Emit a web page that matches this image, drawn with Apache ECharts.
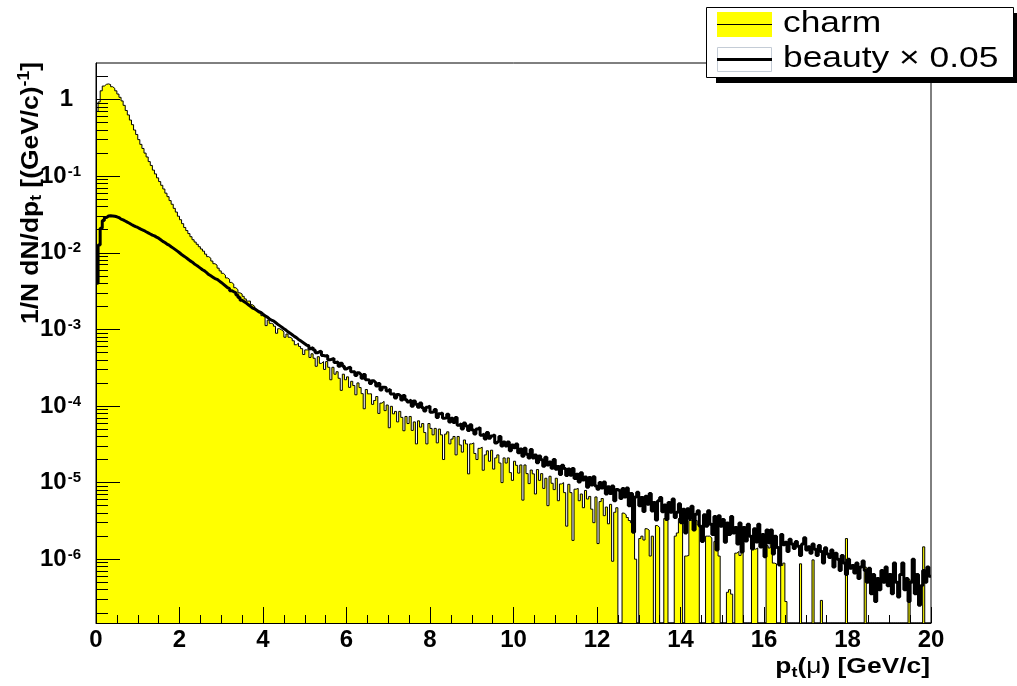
<!DOCTYPE html>
<html><head><meta charset="utf-8">
<script src="https://cdn.jsdelivr.net/npm/echarts@6/dist/echarts.min.js"></script>
<style>html,body{margin:0;padding:0;background:#fff}#c{width:1017px;height:686px}</style>
</head><body><div id="c"></div>
<script>
// ---- data ----
const binWidth = 0.05;           // GeV/c, 400 bins from 0 to 20
const xRange = [0, 20];
const yRange = [1.47e-7, 3.0];
const xTickLabels = ['0','2','4','6','8','10','12','14','16','18','20'];
const yDecades = [-6, -5, -4, -3, -2, -1, 0];
const seriesNames = ['charm', 'beauty \u00d7 0.05'];

const charm = [
0.70,0.93,1.3,1.5,1.58,1.6,1.57,1.47,1.4,1.3,
1.18,1.07,0.96,0.84,0.72,0.63,0.54,0.47,0.40,0.35,
0.30,0.26,0.23,0.20,0.178,0.155,0.138,0.12,0.107,0.095,
0.085,0.076,0.068,0.060,0.054,0.048,0.043,0.038,0.034,0.030,
0.027,0.024,0.0214,0.0195,0.0178,0.0162,0.0148,0.0138,0.0129,0.012,
0.0112,0.0105,0.0096,0.0089,0.0085,0.0078,0.0072,0.0069,0.0063,0.0058,
0.0054,0.0051,0.0047,0.0045,0.0041,0.0039,0.0035,0.0033,0.0030,0.0029,
0.0027,0.0025,0.00234,0.00234,0.0021,0.0020,0.0018,0.00174,0.00166,0.00151,
0.00145,0.00112,0.00132,0.0012,0.00117,0.0011,0.00089,0.00102,0.00098,0.00093,
0.00079,0.00087,0.00079,0.00076,0.00071,0.00063,0.00066,0.0006,0.00056,0.00047,
5.4e-4,5.4e-4,4.3e-4,4.8e-4,4.2e-4,3.3e-4,4.4e-4,3.6e-4,3.8e-4,3.0e-4,
3.8e-4,3.2e-4,2.2e-4,3.2e-4,2.6e-4,2.8e-4,2.3e-4,1.6e-4,2.6e-4,2.2e-4,
2.4e-4,1.75e-4,2.1e-4,1.85e-4,1.4e-4,2.0e-4,1.74e-4,1.45e-4,9.2e-5,1.64e-4,
1.44e-4,1.44e-4,1.05e-4,1.18e-4,1.33e-4,8.0e-5,1.09e-4,1.15e-4,8.7e-5,1.03e-4,
5.2e-5,9.9e-5,7.9e-5,8.5e-5,6.2e-5,8.5e-5,7.1e-5,4.75e-5,7.3e-5,5.9e-5,
7.3e-5,4.8e-5,6.2e-5,3.2e-5,6.4e-5,5.3e-5,5.9e-5,4.5e-5,3.2e-5,5.9e-5,
5.1e-5,4.2e-5,5.1e-5,3.3e-5,5.0e-5,4.2e-5,2.0e-5,4.3e-5,4.6e-5,3.2e-5,
3.7e-5,4.0e-5,2.3e-5,4.0e-5,3.1e-5,2.5e-5,3.6e-5,3.2e-5,1.3e-5,3.2e-5,
3.3e-5,2.4e-5,2.0e-5,2.8e-5,2.9e-5,1.45e-5,2.3e-5,2.6e-5,1.9e-5,2.65e-5,
1.5e-5,2.1e-5,2.3e-5,1.8e-5,1.0e-5,2.1e-5,1.8e-5,2.1e-5,1.35e-5,1.07e-5,
1.9e-5,1.68e-5,1.33e-5,1.7e-5,5.9e-6,1.7e-5,1.31e-5,9.7e-6,1.46e-5,1.3e-5,
7.1e-6,1.48e-5,1.07e-5,1.31e-5,8.4e-6,1.14e-5,5.0e-6,1.21e-5,9.8e-6,8.1e-6,
1.14e-5,5.8e-6,9.6e-6,1.0e-5,7.4e-6,2.7e-6,9.5e-6,7.4e-6,1.76e-6,8.2e-6,
8.4e-6,5.8e-6,7.1e-6,4.7e-6,7.9e-6,6.1e-6,6.6e-6,4.5e-6,3.0e-6,6.5e-6,
1.6e-6,5.65e-6,6.2e-6,3.7e-6,4.8e-6,2.9e-6,5.2e-6,9.4e-7,4.1e-6,4.7e-6,
0,0,4.0e-6,3.8e-6,3.5e-6,3.2e-6,3.0e-6,3.3e-6,1.0e-6,0,
1.86e-6,2.0e-6,1.78e-6,2.5e-6,2.4e-6,1.1e-6,2.0e-6,0,2.75e-6,2.6e-6,
0,0,3.4e-6,3.2e-6,0,0,0,2.0e-6,2.2e-6,3.4e-6,
3.2e-6,0,1.1e-6,1.12e-6,3.2e-6,3.3e-6,3.0e-6,3.2e-6,2.8e-6,0,
0,0,2.0e-6,2.0e-6,1.9e-6,0,1.7e-6,1.78e-6,1.1e-6,0,
0,0,3.7e-7,4.0e-7,3.5e-7,0,1.2e-6,1.26e-6,1.12e-6,1.3e-6,
0,0,0,0,1.4e-6,1.35e-6,1.4e-6,0,0,0,
0,1.5e-6,1.4e-6,1.6e-6,8.9e-7,8.7e-7,0,0,8.3e-7,8.9e-7,
2.8e-7,0,0,0,0,0,0,8.7e-7,0,0,
0,0,0,9.8e-7,0,0,0,2.9e-7,0,0,
0,0,0,0,0,0,0,0,0,1.86e-6,
0,0,0,0,0,0,0,0,7.9e-7,0,
0,0,0,0,0,0,0,0,0,0,
0,0,0,0,0,0,0,0,0,5.4e-7,
0,0,0,0,0,0,1.45e-6,0,0,0
];

const beauty = [
0.004,0.0126,0.0209,0.0263,0.0288,0.0302,0.0305,0.0302,0.0299,0.0295,
0.0288,0.0275,0.0269,0.026,0.0251,0.0243,0.0234,0.0226,0.0219,0.0214,
0.0207,0.020,0.0195,0.0188,0.0182,0.0176,0.017,0.0166,0.016,0.0155,
0.0148,0.0141,0.0136,0.013,0.0126,0.012,0.0115,0.011,0.0105,0.0100,
0.0095,0.0091,0.0087,0.0083,0.0079,0.0076,0.0072,0.0069,0.0066,0.0063,
0.006,0.0058,0.0055,0.0052,0.005,0.0048,0.0046,0.0045,0.0043,0.0041,
0.0039,0.0037,0.0035,0.0034,0.0032,0.0031,0.003,0.0028,0.0026,0.0024,
0.0023,0.0022,0.0021,0.002,0.0019,0.00186,0.00178,0.0017,0.00166,0.00158,
0.00151,0.00145,0.00138,0.00132,0.00129,0.00123,0.00117,0.00112,0.00107,0.00102,
9.8e-4,9.3e-4,8.9e-4,8.5e-4,8.1e-4,7.8e-4,7.4e-4,7.1e-4,6.8e-4,6.5e-4,
6.2e-4,6.1e-4,5.6e-4,5.8e-4,5.4e-4,4.95e-4,5.1e-4,5.2e-4,4.57e-4,4.5e-4,
4.57e-4,4.0e-4,4.07e-4,4.2e-4,3.7e-4,3.76e-4,3.3e-4,3.6e-4,3.3e-4,3.05e-4,
3.16e-4,3.2e-4,2.8e-4,2.79e-4,2.5e-4,2.72e-4,2.57e-4,2.3e-4,2.57e-4,2.2e-4,
2.19e-4,1.97e-4,2.14e-4,2.02e-4,1.82e-4,1.97e-4,1.62e-4,1.76e-4,1.74e-4,1.57e-4,
1.66e-4,1.43e-4,1.45e-4,1.27e-4,1.41e-4,1.35e-4,1.2e-4,1.37e-4,1.21e-4,1.13e-4,
1.2e-4,9.9e-5,1.16e-4,1.05e-4,9.6e-5,1.09e-4,9.5e-5,8.6e-5,9.6e-5,1.0e-4,
8.3e-5,8.4e-5,9.0e-5,7.1e-5,7.9e-5,8.1e-5,6.9e-5,7.0e-5,7.8e-5,6.2e-5,
6.9e-5,6.1e-5,7.1e-5,5.6e-5,5.9e-5,5.0e-5,6.0e-5,5.5e-5,4.8e-5,5.7e-5,
4.85e-5,4.3e-5,5.0e-5,5.25e-5,4.15e-5,4.3e-5,3.7e-5,4.5e-5,3.8e-5,4.05e-5,
4.2e-5,3.3e-5,3.5e-5,4.0e-5,3.0e-5,3.4e-5,3.0e-5,3.4e-5,2.6e-5,3.1e-5,
2.85e-5,3.2e-5,2.45e-5,2.75e-5,2.2e-5,2.8e-5,2.35e-5,2.1e-5,2.7e-5,2.1e-5,
2.3e-5,1.82e-5,2.23e-5,1.98e-5,1.64e-5,2.15e-5,1.7e-5,1.86e-5,1.54e-5,2.0e-5,
1.49e-5,1.62e-5,1.28e-5,1.68e-5,1.53e-5,1.24e-5,1.51e-5,1.25e-5,1.53e-5,1.13e-5,
1.29e-5,1.02e-5,1.34e-5,1.08e-5,1.18e-5,8.7e-6,1.17e-5,9.3e-6,1.19e-5,9.0e-6,
8.2e-6,1.0e-5,8.5e-6,1.02e-5,7.1e-6,8.85e-6,7.2e-6,9.0e-6,5.8e-6,8.1e-6,
7.8e-6,6.2e-6,8.4e-6,6.5e-6,8.5e-6,5.0e-6,7.2e-6,2.25e-6,6.5e-6,7.5e-6,
5.0e-6,6.4e-6,4.2e-6,6.65e-6,5.2e-6,7.2e-6,4.25e-6,5.5e-6,3.25e-6,5.8e-6,
6.4e-6,4.15e-6,5.1e-6,3.3e-6,5.5e-6,4.1e-6,6.1e-6,3.5e-6,4.1e-6,5.3e-6,
3.0e-6,4.5e-6,2.2e-6,4.55e-6,3.4e-6,4.9e-6,2.4e-6,3.85e-6,4.3e-6,2.7e-6,
1.7e-6,3.8e-6,2.7e-6,4.3e-6,2.86e-6,2.1e-6,3.6e-6,1.32e-6,3.7e-6,2.7e-6,
3.3e-6,1.66e-6,2.96e-6,2.1e-6,3.6e-6,2.2e-6,2.6e-6,1.58e-6,2.96e-6,1.24e-6,
2.6e-6,1.73e-6,2.87e-6,2.0e-6,1.36e-6,2.5e-6,1.68e-6,2.86e-6,1.44e-6,2.1e-6,
1.08e-6,2.4e-6,1.64e-6,2.4e-6,1.17e-6,2.0e-6,1.42e-6,8.4e-7,2.1e-6,1.54e-6,
1.66e-6,1.26e-6,1.82e-6,1.58e-6,1.38e-6,1.7e-6,1.48e-6,1.12e-6,1.58e-6,1.9e-6,
1.32e-6,1.45e-6,1.2e-6,1.58e-6,1.35e-6,1.12e-6,1.51e-6,1.26e-6,8.9e-7,1.41e-6,
1.17e-6,1.05e-6,1.32e-6,7.9e-7,1.2e-6,1.0e-6,7.1e-7,1.12e-6,8.9e-7,6.3e-7,
1.0e-6,7.6e-7,8.3e-7,6.6e-7,8.9e-7,5.6e-7,7.9e-7,9.5e-7,7.1e-7,5.0e-7,
7.6e-7,3.55e-7,6.3e-7,2.8e-7,5.6e-7,4.0e-7,7.1e-7,5.0e-7,7.9e-7,4.5e-7,
6.3e-7,3.55e-7,8.9e-7,5.0e-7,3.2e-7,6.3e-7,8.9e-7,4.0e-7,5.6e-7,2.8e-7,
5.0e-7,1.0e-6,3.55e-7,6.3e-7,2.5e-7,4.5e-7,7.1e-7,5.0e-7,7.9e-7,6.0e-7
];

// ---- build ----
const FONT = '"Liberation Sans", Arial, Helvetica, sans-serif';
const yLogMin = Math.log10(yRange[0]);
const yLogMax = Math.log10(yRange[1]);
function histData(vals) {
  const d = vals.map((v, i) => [i * binWidth, v > 0 ? Math.log10(v) : yLogMin]);
  d.push([vals.length * binWidth, d[d.length - 1][1]]);
  return d;
}
const minorY = [];
for (let n = -8; n <= 0; n++) {
  for (let k = 2; k <= 9; k++) {
    const v = n + Math.log10(k);
    if (v > yLogMin && v < yLogMax) minorY.push(v);
  }
}

const chart = echarts.init(document.getElementById('c'), null, {renderer: 'canvas'});
chart.setOption({
  animation: false,
  backgroundColor: '#fff',
  grid: {left: 96, right: 86, top: 63, bottom: 63,
         show: true, borderColor: '#000', borderWidth: 1, backgroundColor: 'transparent'},
  xAxis: {
    type: 'value', min: xRange[0], max: xRange[1], interval: 2, z: 10,
    axisLine: {show: true, onZero: false, lineStyle: {color: '#000', width: 1}},
    axisTick: {show: true, inside: true, length: 16, lineStyle: {color: '#000', width: 1}},
    minorTick: {show: true, splitNumber: 4, length: 8, lineStyle: {color: '#000', width: 1}},
    splitLine: {show: false},
    axisLabel: {
      margin: 5, color: '#000', fontFamily: FONT, fontWeight: 'bold', fontSize: 24,
      formatter: v => xTickLabels[Math.round(v / 2)]
    }
  },
  yAxis: [{
    type: 'value', min: yLogMin, max: yLogMax, z: 10,
    axisLine: {show: true, onZero: false, lineStyle: {color: '#000', width: 1}},
    axisTick: {show: true, inside: true, length: 24, customValues: yDecades, lineStyle: {color: '#000', width: 1}},
    splitLine: {show: false},
    axisLabel: {
      customValues: yDecades, margin: 15, color: '#000',
      formatter: v => Math.round(v) === 0 ? '{o|1}' : '{b|10}{e|' + Math.round(v) + '}',
      rich: {
        o: {fontFamily: FONT, fontWeight: 'bold', fontSize: 24, lineHeight: 24, padding: [6, 8, 0, 0], verticalAlign: 'bottom'},
        b: {fontFamily: FONT, fontWeight: 'bold', fontSize: 24, lineHeight: 24, verticalAlign: 'bottom'},
        e: {fontFamily: FONT, fontWeight: 'bold', fontSize: 15, lineHeight: 15, padding: [0, 0, 20, 1], verticalAlign: 'top'}
      }
    }
  }, {
    type: 'value', min: yLogMin, max: yLogMax, position: 'left', z: 10,
    axisLine: {show: false},
    axisTick: {show: true, inside: true, length: 12, customValues: minorY, lineStyle: {color: '#000', width: 1}},
    axisLabel: {show: false},
    splitLine: {show: false}
  }],
  series: [{
    name: seriesNames[0], type: 'line', step: 'end', showSymbol: false, symbol: 'none',
    data: histData(charm), clip: true,
    lineStyle: {color: '#000', width: 1},
    areaStyle: {color: '#ffff00', opacity: 1, origin: 'start'},
    z: 2
  }, {
    name: seriesNames[1], type: 'line', step: 'end', showSymbol: false, symbol: 'none',
    data: histData(beauty), clip: true,
    lineStyle: {color: '#000', width: 3},
    z: 3
  }],
  graphic: [
    {type: 'text', x: 31, y: 62, rotation: Math.PI / 2, scaleX: 1.1, z: 20,
     style: {text: '{a|1/N dN/dp}{s|t}{a| [(GeV/c)}{e|-1}{a|]}', align: 'right', verticalAlign: 'middle',
       rich: {
         a: {fontFamily: FONT, fontWeight: 'bold', fontSize: 24, lineHeight: 30, fill: '#000', verticalAlign: 'middle'},
         s: {fontFamily: FONT, fontWeight: 'bold', fontSize: 16, lineHeight: 30, padding: [12, 0, 0, 0], fill: '#000', verticalAlign: 'middle'},
         e: {fontFamily: FONT, fontWeight: 'bold', fontSize: 16, lineHeight: 30, padding: [0, 0, 12, 0], fill: '#000', verticalAlign: 'middle'}
       }}},
    {type: 'text', x: 930, y: 667, scaleX: 1.2, z: 20,
     style: {text: '{a|p}{s|t}{a|(}{m|\u03bc}{a|) [GeV/c]}', align: 'right', verticalAlign: 'middle',
       rich: {
         a: {fontFamily: FONT, fontWeight: 'bold', fontSize: 22, lineHeight: 26, fill: '#000'},
         m: {fontFamily: FONT, fontSize: 22, lineHeight: 26, fill: '#000'},
         s: {fontFamily: FONT, fontWeight: 'bold', fontSize: 15, lineHeight: 26, padding: [12, 0, 0, 0], fill: '#000'}
       }}},
    {type: 'rect', shape: {x: 716, y: 13, width: 307, height: 70}, style: {fill: '#000'}, z: 20},
    {type: 'rect', shape: {x: 706.5, y: 7.5, width: 307, height: 70}, style: {fill: '#fff', stroke: '#000', lineWidth: 1}, z: 21},
    {type: 'rect', shape: {x: 717, y: 12, width: 55, height: 25}, style: {fill: '#ffff00'}, z: 22},
    {type: 'line', shape: {x1: 717, y1: 24.5, x2: 772, y2: 24.5}, style: {stroke: '#000', lineWidth: 1}, z: 23},
    {type: 'rect', shape: {x: 717.5, y: 47.5, width: 54, height: 24}, style: {fill: '#fff', stroke: '#c4ccd6', lineWidth: 1}, z: 22},
    {type: 'line', shape: {x1: 717, y1: 59.5, x2: 772, y2: 59.5}, style: {stroke: '#000', lineWidth: 3}, z: 23},
    {type: 'text', x: 783, y: 24, scaleX: 1.22, z: 23,
     style: {text: seriesNames[0], fontFamily: FONT, fontSize: 29, fill: '#000', align: 'left', verticalAlign: 'middle'}},
    {type: 'text', x: 783, y: 59, scaleX: 1.22, z: 23,
     style: {text: seriesNames[1], fontFamily: FONT, fontSize: 29, fill: '#000', align: 'left', verticalAlign: 'middle'}}
  ]
});
</script>
</body></html>
